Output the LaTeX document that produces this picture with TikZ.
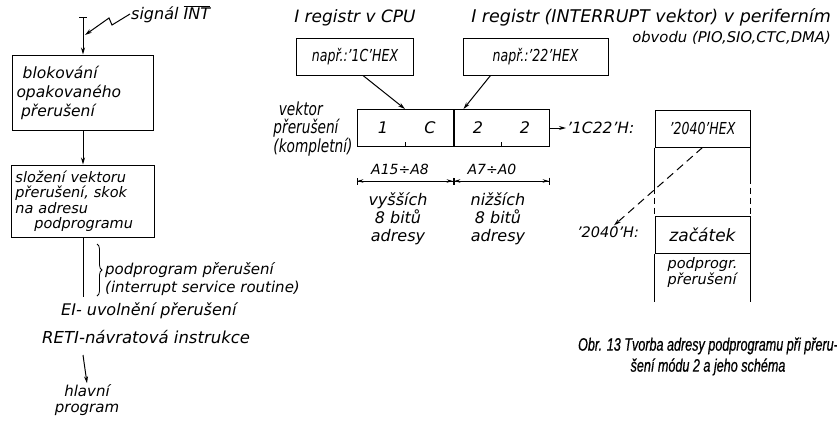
\documentclass[tikz,border=0pt]{standalone}
\usepackage{fontspec}
\setmainfont{DejaVu Sans}[ItalicFont={DejaVu Sans Oblique}]
\newfontfamily\narrowfont[FakeStretch=0.76,Ligatures=TeX]{DejaVu Sans Oblique}
\newfontfamily\capfont[FakeStretch=0.7,FakeBold=0.6,Ligatures=TeX]{Liberation Sans}
\usetikzlibrary{arrows.meta,positioning,decorations.pathreplacing}
\newcommand{\fs}[2]{\fontsize{#1}{#2}\selectfont\itshape}
\tikzset{
  cell/.style={draw,line width=1pt,minimum height=37pt,inner sep=2pt},
  flowbox/.style={draw,line width=1pt,align=left,text width=133pt,inner sep=4pt},
  lbl/.style={inner sep=1pt,align=center},
  narrow/.style={font=\narrowfont\fontsize{16.5}{16}\selectfont},
  link/.style={-{Stealth[length=7pt,width=4pt]},line width=1pt},
  dim/.style={{Bar[width=7pt]Stealth[length=6pt,width=3.5pt]}-{Stealth[length=6pt,width=3.5pt]Bar[width=7pt]},line width=.8pt},
  tick/.style={line width=.8pt}
}

\begin{document}
\begin{tikzpicture}[x=1pt,y=-1pt,font=\fs{15}{18}]
  \useasboundingbox[fill=white] (0,0) rectangle (837,421);
  % flow of the interrupt
  \node[flowbox,minimum height=75pt,font=\fs{15.5}{19}] (block) at (83,92.5) {\hspace*{.4em}blokování\\opakovaného\\\hspace*{.3em}přerušení};
  \node[flowbox,minimum height=72pt,text width=135pt,font=\fs{14.5}{15.5}] (compose) at (83,201) {složení vektoru\\přerušení, skok\\na adresu\\\hspace*{1.3em}podprogramu};
  \coordinate (intTop) at (83,17);
  \coordinate (hit) at (85,35);
  \node[lbl,anchor=west,font=\fs{16}{18}] (intSig) at (130,14) {signál $\overline{\textit{INT}}$};
  \draw[{Bar[width=8pt]}-{Stealth[length=7pt,width=4pt]},line width=1pt] (intTop) -- (block.north);
  \draw[link] (intSig.west) -- ++(-18,11) -- ++(-3,-7) -- (hit);
  \draw[link] (block) -- (compose);
  \coordinate (subEnd) at (83,297);
  \draw[line width=1pt] (compose.south) -- (subEnd);
  \coordinate (braceTop) at (97,244);
  \coordinate (braceEnd) at (97,296);
  \draw[decorate,decoration={brace,amplitude=5pt},line width=.8pt] (braceTop) -- (braceEnd);
  \node[lbl,anchor=west,align=left] (isr) at (104,279) {podprogram přerušení\\(interrupt service routine)};
  \node[lbl,anchor=west,font=\fs{16}{18}] (eiLbl) at (60,311) {EI- uvolnění přerušení};
  \node[lbl,anchor=west,font=\fs{16.5}{18}] (retiLbl) at (41,337) {RETI-návratová instrukce};
  \coordinate (mainTop) at (83,355);
  \node[lbl,font=\fs{15}{16}] (mainProg) at (87,400) {hlavní\\program};
  \draw[link] (mainTop) -- (mainProg.north);
  % registers and vector
  \node[lbl,font=\fs{17}{18}] (cpuLbl) at (355,18) {I registr v CPU};
  \node[cell,narrow,minimum width=117pt] (cpuBox) at (355,56.5) {např.:'1C'HEX};
  \node[lbl,anchor=north east,align=right,font=\fs{17.5}{20}] (periLbl) at (832,7) {I registr (INTERRUPT vektor) v periferním\\{\fs{14.8}{20}obvodu (PIO,SIO,CTC,DMA)}};
  \node[cell,narrow,minimum width=145pt] (periBox) at (535.5,56.5) {např.:'22'HEX};
  \node[cell,minimum width=96pt] (hiPart) at (405,128) {};
  \node[cell,minimum width=95pt,right=0pt of hiPart] (loPart) {};
  \node[font=\fs{16}{18}] (d1) at (383,128) {1};
  \node[font=\fs{16}{18}] (dC) at (430,128) {C};
  \node[font=\fs{16}{18}] (d2a) at (478,128) {2};
  \node[font=\fs{16}{18}] (d2b) at (525,128) {2};
  \draw[tick] (hiPart.south) -- ++(0,-5);
  \draw[tick] (loPart.south) -- ++(0,-5);
  \draw[link] ([xshift=8pt]cpuBox.south) -- (hiPart.north);
  \draw[link] ([xshift=-45pt]periBox.south) -- ([xshift=-38pt]loPart.north);
  \node[lbl,narrow,align=left,font=\narrowfont\fontsize{18}{18}\selectfont] (vecLbl) at (313,129) {\hspace*{.3em}vektor\\přerušení\\(kompletní)};
  \node[lbl,anchor=west,font=\fs{15.5}{18}] (vecAddr) at (566,128) {'1C22'H:};
  \draw[link] (loPart.east) -- (vecAddr.west);
  \draw[dim] ([yshift=-34pt]hiPart.south west) -- ([yshift=-34pt]hiPart.south east);
  \draw[dim] ([yshift=-34pt]loPart.south west) -- ([yshift=-34pt]loPart.south east);
  \node[lbl,font=\fs{14}{18}] (hiRange) at (400,169) {A15÷A8};
  \node[lbl,font=\fs{14}{18}] (loRange) at (492,169) {A7÷A0};
  \node[lbl,font=\fs{16}{18}] (hiNote) at (398,219) {vyšších\\8 bitů\\adresy};
  \node[lbl,font=\fs{16}{18}] (loNote) at (498,219) {nižších\\8 bitů\\adresy};
  % memory
  \node[cell,narrow,minimum width=95pt] (memHex) at (702.5,128.5) {'2040'HEX};
  \node[cell,minimum width=95pt,font=\fs{17}{18},below=68pt of memHex] (memStart) {začátek};
  \node[lbl,align=left,font=\fs{14.5}{16},below=3pt of memStart] (memSub) {podprogr.\\přerušení};
  \draw[line width=1pt] (memHex.south west) -- ([yshift=28pt]memStart.north west);
  \draw[line width=1pt,dash pattern=on 6pt off 4pt] ([yshift=28pt]memStart.north west) -- (memStart.north west);
  \draw[line width=1pt] (memHex.south east) -- ([yshift=38pt]memStart.north east);
  \draw[line width=1pt,dash pattern=on 6pt off 4pt] ([yshift=38pt]memStart.north east) -- (memStart.north east);
  \draw[line width=1pt] (memStart.south west) -- ++(0,48);
  \draw[line width=1pt] (memStart.south east) -- ++(0,48);
  \node[lbl,font=\fs{14.5}{18}] (memAddr) at (608,232) {'2040'H:};
  \draw[link,dash pattern=on 8pt off 5pt] (memHex.south) -- ([xshift=6pt]memAddr.north);
  \node[anchor=north,align=center,font=\capfont\fs{18}{21}] (caption) at (708,334) {Obr. 13 Tvorba adresy podprogramu při přeru-\\šení módu 2 a jeho schéma};
\end{tikzpicture}
\end{document}
